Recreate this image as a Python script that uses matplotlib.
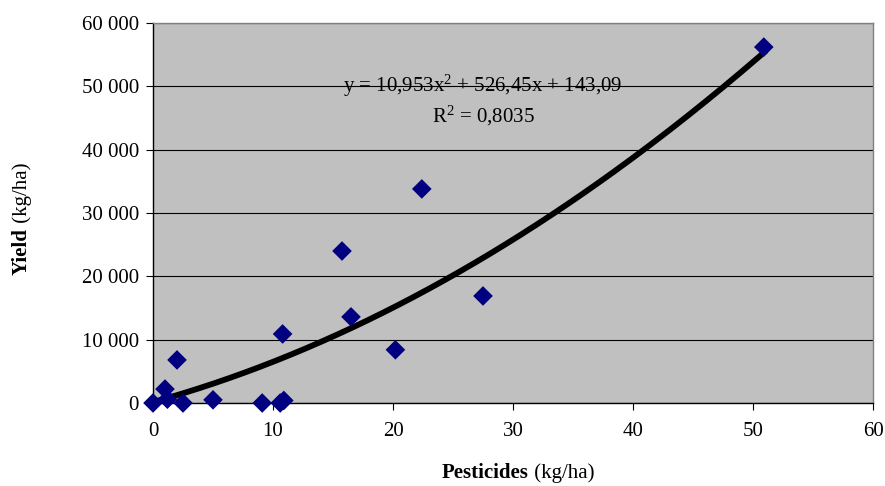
import numpy as np
import matplotlib
matplotlib.use("Agg")
import matplotlib.pyplot as plt
from matplotlib.ticker import FuncFormatter

# data
pesticides = [0.0, 1.0, 1.2, 2.0, 2.5, 5.0, 9.1, 10.6, 10.9, 10.8, 15.75, 16.5, 20.2, 22.4, 27.5, 50.9]
yield_kg = [0, 2200, 600, 6800, 0, 500, 0, 0, 400, 10900, 24000, 13600, 8400, 33800, 16900, 56200]

# trend line coefficients (as printed on chart)
coef = [10.953, 526.45, 143.09]
r2 = 0.8035

plt.rcParams['font.family'] = ['Liberation Serif', 'DejaVu Serif']
plt.rcParams['font.size'] = 15
plt.rcParams['mathtext.fontset'] = 'custom'
plt.rcParams['mathtext.rm'] = 'Liberation Serif'
plt.rcParams['mathtext.it'] = 'Liberation Serif:italic'


def main():
    fig = plt.figure(figsize=(8.85, 4.86), dpi=100)
    ax = fig.add_axes([153 / 885, 83 / 486, 720 / 885, 380 / 486])
    ax.set_facecolor('#C0C0C0')

    # gridlines
    ax.yaxis.grid(True, color='black', linewidth=0.8)
    ax.set_axisbelow(True)

    # trend line
    xs = np.linspace(0, max(pesticides), 200)
    ax.plot(xs, np.polyval(coef, xs), color='black', linewidth=4.2, zorder=2)

    # points
    ax.scatter(pesticides, yield_kg, marker='D', s=100, color='#000080',
               edgecolors='none', zorder=3, clip_on=False)

    ax.set_xlim(0, 60)
    ax.set_ylim(0, 60000)
    ax.set_xticks(range(0, 61, 10))
    ax.set_yticks(range(0, 60001, 10000))
    ax.yaxis.set_major_formatter(FuncFormatter(lambda v, p: f"{v:,.0f}".replace(",", " ")))
    ax.tick_params(direction='out', length=5, width=0.8, labelsize=15, pad=5)
    ax.tick_params(axis='x', pad=9)
    for s in ax.spines.values():
        s.set_color('#808080')
        s.set_linewidth(1.0)
    ax.spines['left'].set_color('black')
    ax.spines['bottom'].set_color('black')

    # equation
    ax.text(27.5, 50000, "y = 10,953x$^2$ + 526,45x + 143,09", ha='center', va='center')
    ax.text(27.5, 45400, f"R$^2$ = {r2:.4f}".replace(".", ","), ha='center', va='center')

    # axis labels (bold part + normal part)
    fig.text(529 / 885, 1 - 473 / 486, "Pesticides", ha='right', va='center',
             fontweight='bold')
    fig.text(529 / 885, 1 - 473 / 486, " (kg/ha)", ha='left', va='center')
    fig.text(22 / 885, 1 - 228 / 486, "Yield", ha='right', va='center',
             rotation=90, rotation_mode='anchor', fontweight='bold')
    fig.text(22 / 885, 1 - 228 / 486, " (kg/ha)", ha='left', va='center',
             rotation=90, rotation_mode='anchor')

    fig.savefig('out.png', dpi=100)


if __name__ == '__main__':
    main()
